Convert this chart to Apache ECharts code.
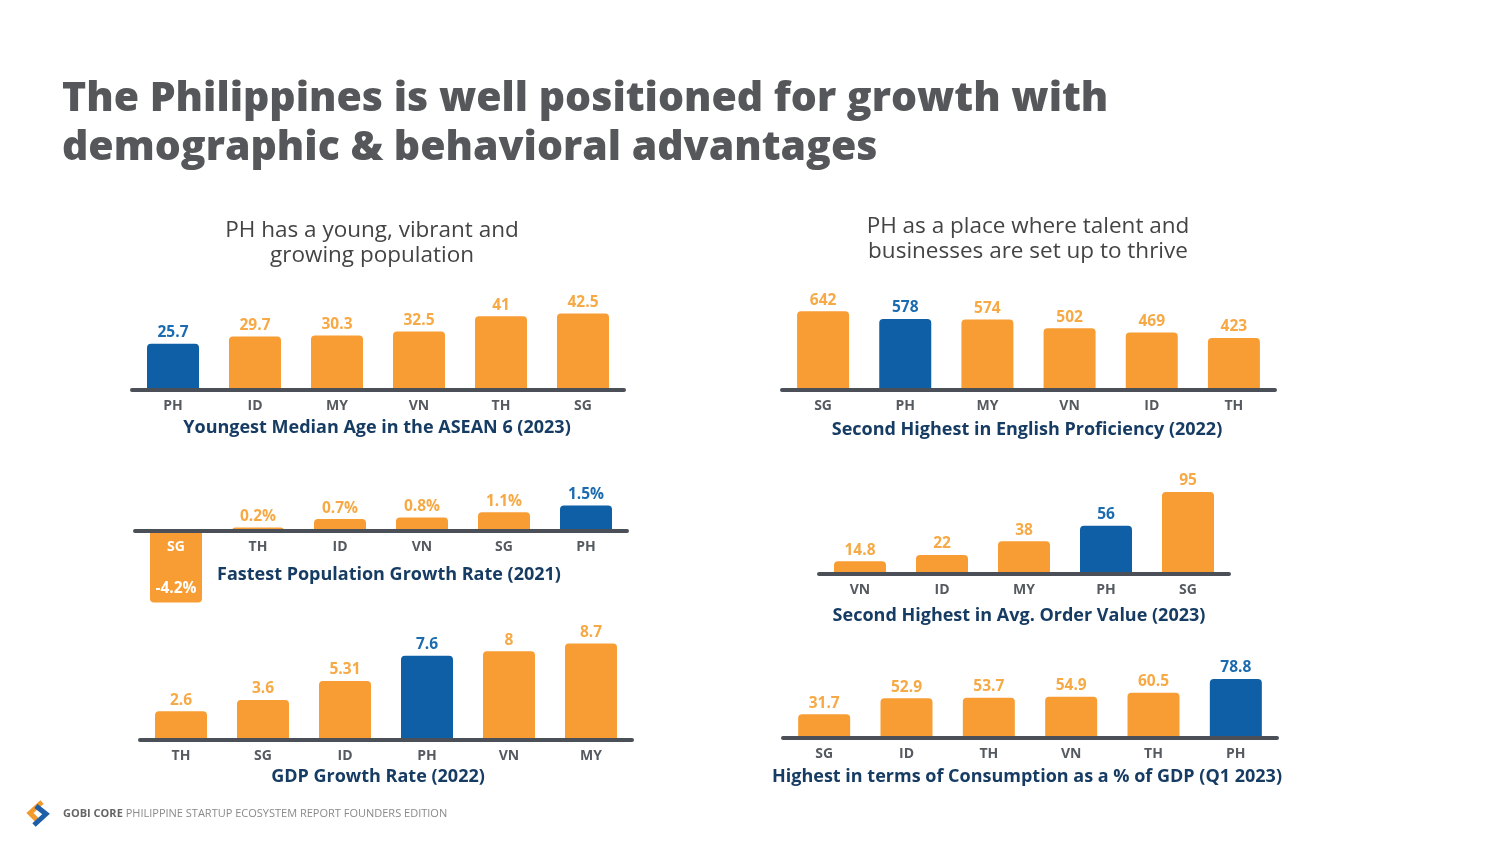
<!DOCTYPE html>
<html><head><meta charset="utf-8">
<script src="https://cdn.jsdelivr.net/npm/echarts@6/dist/echarts.min.js"></script>
<style>html,body{margin:0;padding:0;background:#fff}#c{width:1500px;height:844px}</style>
</head><body><div id="c"></div>
<script>
// ---- data ----
const ageCats = ['PH','ID','MY','VN','TH','SG'];
const ageVals = [25.7, 29.7, 30.3, 32.5, 41, 42.5];
const popCats = ['SG','TH','ID','VN','SG','PH'];
const popVals = [-4.2, 0.2, 0.7, 0.8, 1.1, 1.5];
const gdpCats = ['TH','SG','ID','PH','VN','MY'];
const gdpVals = [2.6, 3.6, 5.31, 7.6, 8, 8.7];
const engCats = ['SG','PH','MY','VN','ID','TH'];
const engVals = [642, 578, 574, 502, 469, 423];
const aovCats = ['VN','ID','MY','PH','SG'];
const aovVals = [14.8, 22, 38, 56, 95];
const conCats = ['SG','ID','TH','VN','TH','PH'];
const conVals = [31.7, 52.9, 53.7, 54.9, 60.5, 78.8];

const ORANGE = '#F89D33', BLUE = '#0E5FA6';
const LBL_OR = '#F6A945', LBL_BL = '#1B6BB0';
const AXIS = '#4B5058', CATC = '#555a60', SUBC = '#173C63';
const FONT = 'Open Sans';

const panels = [
  {cats: ageCats, vals: ageVals, grid:{left:132, top:300, width:492, height:90}, min:0, max:50, fmt:'{c}'},
  {cats: popCats, vals: popVals, grid:{left:135, top:497, width:492, height:34}, min:0, max:2, fmt:'{c}%'},
  {cats: gdpCats, vals: gdpVals, grid:{left:140, top:629, width:492, height:111}, min:0, max:10, fmt:'{c}'},
  {cats: engCats, vals: engVals, grid:{left:782, top:304, width:493, height:86}, min:0, max:700, fmt:'{c}'},
  {cats: aovCats, vals: aovVals, grid:{left:819, top:487.7, width:410, height:86.3}, min:0, max:100, fmt:'{c}'},
  {cats: conCats, vals: conVals, grid:{left:783, top:663, width:494, height:75}, min:0, max:100, fmt:'{c}'}
];

const grids = [], xAxes = [], yAxes = [], series = [];
panels.forEach((p, k) => {
  grids.push(Object.assign({containLabel:false}, p.grid));
  xAxes.push({
    type:'category', gridIndex:k, data:p.cats, z: 5,
    axisLine:{onZero:false, lineStyle:{color:AXIS, width:4}},
    axisTick:{show:false},
    axisLabel:{
      fontFamily:FONT, fontSize:14, fontWeight:'bold', color:CATC, margin:9,
      formatter:(v, i) => (p.vals[i] < 0 ? '{w|' + v + '}' : v),
      rich:{w:{color:'#fff', fontFamily:FONT, fontSize:14, fontWeight:'bold'}}
    }
  });
  yAxes.push({type:'value', gridIndex:k, min:p.min, max:p.max, show:false, splitLine:{show:false}});
  series.push({
    type:'bar', xAxisIndex:k, yAxisIndex:k, barWidth:52, clip:false,
    data: p.vals.map((v, i) => {
      const hl = p.cats[i] === 'PH';
      return {
        value: v,
        itemStyle:{color: hl ? BLUE : ORANGE, borderRadius: v < 0 ? [0,0,4,4] : [4,4,0,0]},
        label: v < 0
          ? {position:'insideBottom', distance:6, color:'#fff'}
          : {position:'top', distance:3, color: hl ? LBL_BL : LBL_OR}
      };
    }),
    label:{show:true, formatter:p.fmt, fontFamily:FONT, fontSize:15.5, fontWeight:'bold'}
  });
});

const txt = (x, y, s, style) => ({type:'text', x, y, style:Object.assign({text:s, fontFamily:FONT}, style)});
const sub = (x, y, s) => txt(x, y, s, {fill:SUBC, fontSize:18, fontWeight:'bold', textAlign:'center', textVerticalAlign:'middle'});
const head = (x, y, s) => txt(x, y, s, {fill:'#444', fontSize:22.5, textAlign:'center', textVerticalAlign:'middle', lineHeight:25});

const graphic = [
  txt(62, 99, 'The Philippines is well positioned for growth with', {fill:'#56575A', fontSize:41, fontWeight:800, textVerticalAlign:'middle'}),
  txt(62, 148, 'demographic & behavioral advantages', {fill:'#56575A', fontSize:41, fontWeight:800, textVerticalAlign:'middle'}),
  head(372, 243, 'PH has a young, vibrant and\ngrowing population'),
  head(1028, 239, 'PH as a place where talent and\nbusinesses are set up to thrive'),
  sub(377, 428, 'Youngest Median Age in the ASEAN 6 (2023)'),
  sub(389, 575, 'Fastest Population Growth Rate (2021)'),
  sub(378, 777, 'GDP Growth Rate (2022)'),
  sub(1027, 430, 'Second Highest in English Proficiency (2022)'),
  sub(1019, 616, 'Second Highest in Avg. Order Value (2023)'),
  sub(1027, 777, 'Highest in terms of Consumption as a % of GDP (Q1 2023)'),
  {type:'polyline', shape:{points:[[42,802],[30,813],[38,821]]}, style:{stroke:'#F39A2C', lineWidth:5, fill:null, lineJoin:'miter'}},
  {type:'polyline', shape:{points:[[36,806],[46,814],[34,825]]}, style:{stroke:'#1F5FA8', lineWidth:5, fill:null, lineJoin:'miter'}},
  txt(63, 814, '{b|GOBI CORE} PHILIPPINE STARTUP ECOSYSTEM REPORT FOUNDERS EDITION', {
    fill:'#8a8a8a', fontSize:11, textVerticalAlign:'middle',
    rich:{b:{fill:'#666', fontWeight:'bold', fontSize:11, fontFamily:FONT}}
  })
];

const chart = echarts.init(document.getElementById('c'), null, {renderer:'canvas'});
chart.setOption({
  backgroundColor:'#fff', animation:false,
  grid:grids, xAxis:xAxes, yAxis:yAxes, series:series, graphic:graphic
});
</script></body></html>
